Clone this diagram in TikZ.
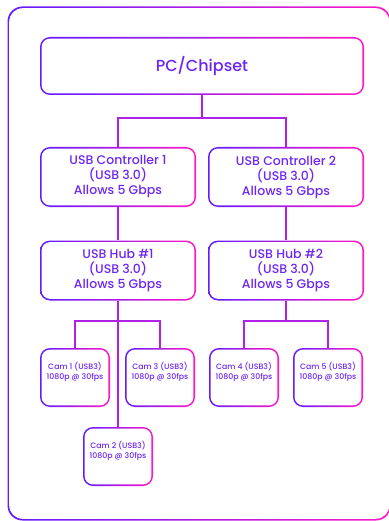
\documentclass[tikz,border=0pt]{standalone}
\usepackage{fontspec}
\setmainfont{Poppins Medium}
\usetikzlibrary{positioning}
\definecolor{ink}{RGB}{108,38,245}
\definecolor{violetend}{RGB}{98,28,255}
\definecolor{pinkend}{RGB}{255,24,200}
\definecolor{wire}{RGB}{176,34,232}

\begin{document}
\begin{tikzpicture}[
  x=1pt,y=-1pt,
  gbox/.style={rounded corners=10pt,left color=violetend,right color=pinkend,
    inner sep=0pt,text=ink,align=center,
    path picture={\fill[white,rounded corners=8.5pt]
      ([shift={(1.6pt,1.6pt)}]path picture bounding box.south west) rectangle
      ([shift={(-1.6pt,-1.6pt)}]path picture bounding box.north east);}},
  top/.style={gbox,minimum width=324pt,minimum height=58pt,font=\fontsize{16}{18}\selectfont},
  unit/.style={gbox,minimum width=156pt,minimum height=60pt,font=\fontsize{12.5}{15}\selectfont},
  cam/.style={gbox,minimum width=70pt,minimum height=59pt,font=\fontsize{7.8}{10}\selectfont},
  link/.style={draw=wire,line width=2pt}
]
\useasboundingbox (0,0) rectangle (388,521);

% Outer frame
\shade[left color=violetend,right color=pinkend,rounded corners=15pt] (7.5,6.5) rectangle (391,520.5);
\fill[white,rounded corners=13.5pt] (9.2,8.2) rectangle (389.3,518.8);

% Host
\node[top] (PC) at (202,66) {PC/Chipset};

% Controllers
\node[unit] (C1) at (118,177) {USB Controller 1\\(USB 3.0)\\Allows 5 Gbps};
\node[unit] (C2) at (286,177) {USB Controller 2\\(USB 3.0)\\Allows 5 Gbps};

% Hubs
\node[unit] (H1) at (118,270.5) {USB Hub \#1\\(USB 3.0)\\Allows 5 Gbps};
\node[unit] (H2) at (286,270.5) {USB Hub \#2\\(USB 3.0)\\Allows 5 Gbps};

% Cameras
\node[cam] (Cam1) at (75,377.5)  {Cam 1 (USB3)\\1080p @ 30fps\\[3pt]};
\node[cam] (Cam3) at (160,377.5) {Cam 3 (USB3)\\1080p @ 30fps\\[3pt]};
\node[cam] (Cam2) at (118,456.5) {Cam 2 (USB3)\\1080p @ 30fps\\[3pt]};
\node[cam] (Cam4) at (244,377.5) {Cam 4 (USB3)\\1080p @ 30fps\\[3pt]};
\node[cam] (Cam5) at (328,377.5) {Cam 5 (USB3)\\1080p @ 30fps\\[3pt]};

% Bus junctions
\coordinate (bus0) at (202,118);
\coordinate (bus1) at (118,321);
\coordinate (bus2) at (286,321);

% Host to controllers
\draw[link] (PC) -- (bus0);
\draw[link] (bus0) -| (C1.north);
\draw[link] (bus0) -| (C2.north);

% Controllers to hubs
\draw[link] (C1) -- (H1);
\draw[link] (C2) -- (H2);

% Hubs to cameras
\draw[link] (H1) -- (Cam2);
\draw[link] (bus1) -| (Cam1.north);
\draw[link] (bus1) -| (Cam3.north);
\draw[link] (H2) -- (bus2);
\draw[link] (bus2) -| (Cam4.north);
\draw[link] (bus2) -| (Cam5.north);

\end{tikzpicture}
\end{document}
